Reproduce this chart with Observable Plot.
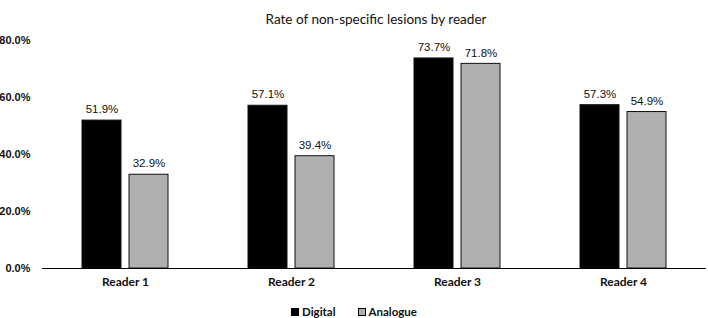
<!DOCTYPE html>
<html>
<head>
<meta charset="utf-8">
<script src="https://cdn.jsdelivr.net/npm/d3@7"></script>
<script src="https://cdn.jsdelivr.net/npm/@observablehq/plot@0.6"></script>
<style>
  body { margin: 0; background: #fff; width: 708px; overflow: hidden; }
  #title { height: 30px; line-height: 38px; text-align: center; font-family: Lato, "Open Sans", sans-serif; font-size: 13.5px; color: #111; padding-left: 44px; box-sizing: border-box; }
  #legend { display: flex; justify-content: center; gap: 22px; font-family: Lato, sans-serif; font-weight: bold; font-size: 11.5px; color: #111; margin-top: 7px; padding-left: 0px; }
  #legend span { display: inline-flex; align-items: center; }
  #legend i { display: inline-block; width: 6px; height: 6px; margin-right: 3px; border: 1px solid #000; }
</style>
</head>
<body>
<div id="title">Rate of non-specific lesions by reader</div>
<div id="chart"></div>
<div id="legend"></div>
<script>
const readers = ["Reader 1", "Reader 2", "Reader 3", "Reader 4"];
const series = ["Digital", "Analogue"];
const digital = [0.519, 0.571, 0.737, 0.573];
const analogue = [0.329, 0.394, 0.718, 0.549];
const yTicks = [0, 0.2, 0.4, 0.6, 0.8];
const colors = ["#000000", "#b0b0b0"];

const data = readers.flatMap((r, i) => [
  {reader: r, type: "Digital", value: digital[i]},
  {reader: r, type: "Analogue", value: analogue[i]}
]);

const fmt = d3.format(".1%");

const plot = Plot.plot({
  width: 708,
  height: 268,
  marginLeft: 42,
  marginRight: 2,
  marginTop: 10,
  marginBottom: 30,
  style: {fontFamily: "'Liberation Sans', Arial, sans-serif", fontSize: "11px", color: "#111", background: "#fff"},
  fx: {domain: readers, paddingInner: 0.48, paddingOuter: 0.24, label: null, axis: null},
  x: {domain: series, paddingInner: 0.18, paddingOuter: 0, axis: null},
  y: {domain: [0, 0.8], ticks: yTicks, tickFormat: fmt, label: null, axis: null},
  color: {domain: series, range: colors},
  marks: [
    Plot.axisY({ticks: yTicks, tickFormat: fmt, tickSize: 0, tickPadding: 52, label: null, fontWeight: "bold", fontSize: 11}),
    Plot.axisFx({anchor: "bottom", tickSize: 0, tickPadding: 9, label: null, fontFamily: "Lato, sans-serif", fontWeight: "bold", fontSize: 12}),
    Plot.barY(data, {fx: "reader", x: "type", y: "value", fill: "type", stroke: "#111", strokeWidth: 1}),
    Plot.ruleY([0], {stroke: "#000", strokeWidth: 1.2, insetLeft: -40, insetRight: -40}),
    Plot.text(data, {fx: "reader", x: "type", y: "value", text: d => fmt(d.value), dy: -11, fill: "#111", fontSize: 11.5})
  ]
});
document.getElementById("chart").appendChild(plot);

const legend = document.getElementById("legend");
series.forEach((s, i) => {
  const span = document.createElement("span");
  const sw = document.createElement("i");
  sw.style.background = colors[i];
  span.appendChild(sw);
  span.appendChild(document.createTextNode(s));
  legend.appendChild(span);
});
</script>
</body>
</html>
